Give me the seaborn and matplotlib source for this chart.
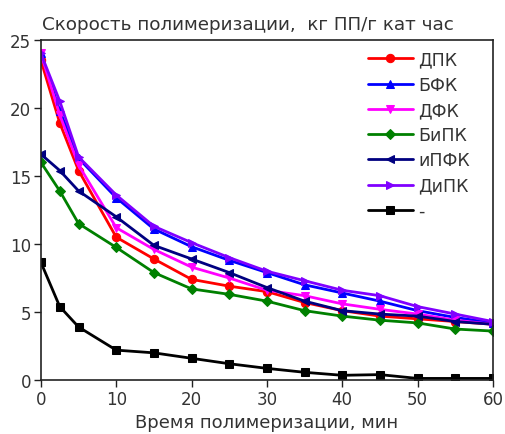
import matplotlib
matplotlib.use("Agg")
import matplotlib.pyplot as plt
import seaborn as sns
import pandas as pd

time_min = [0, 2.5, 5, 10, 15, 20, 25, 30, 35, 40, 45, 50, 55, 60]

dpk = [23.5, 18.9, 15.4, 10.5, 8.9, 7.4, 6.9, 6.5, 5.7, 5.1, 4.7, 4.5, 4.3, 4.1]
bfk = [24.0, 19.8, 16.3, 13.4, 11.1, 9.8, 8.8, 7.9, 7.0, 6.4, 5.8, 5.1, 4.6, 4.2]
dfk = [24.0, 19.5, 15.8, 11.2, 9.6, 8.3, 7.5, 6.6, 6.2, 5.6, 5.2, 4.85, 4.4, 4.1]
bipk = [16.0, 13.9, 11.5, 9.75, 7.9, 6.7, 6.3, 5.8, 5.1, 4.7, 4.4, 4.2, 3.75, 3.6]
ipfk = [16.6, 15.4, 13.9, 12.0, 9.9, 8.9, 7.9, 6.8, 5.8, 5.1, 4.85, 4.7, 4.3, 4.1]
dipk = [24.0, 20.5, 16.4, 13.6, 11.3, 10.1, 9.0, 8.0, 7.3, 6.6, 6.2, 5.4, 4.85, 4.3]
blank = [8.65, 5.4, 3.9, 2.2, 2.0, 1.6, 1.2, 0.86, 0.57, 0.35, 0.4, 0.12, 0.12, 0.12]

series_names = ["ДПК", "БФК", "ДФК", "БиПК", "иПФК", "ДиПК", "-"]
series_values = [dpk, bfk, dfk, bipk, ipfk, dipk, blank]
colors = ["#ff0000", "#0000ff", "#ff00ff", "#008000", "#000080", "#8000ff", "#000000"]
markers = ["o", "^", "v", "D", "<", ">", "s"]

sns.set_style("ticks")
plt.rcParams["font.family"] = ["DejaVu Sans"]

fig = plt.figure(figsize=(5.05, 4.35), dpi=100)
ax = fig.add_axes([0.081, 0.124, 0.895, 0.782])

for name, vals, col, mk in zip(series_names, series_values, colors, markers):
    df = pd.DataFrame({"t": time_min, "v": vals})
    sns.lineplot(data=df, x="t", y="v", ax=ax, color=col, marker=mk,
                 markersize=6 if mk != "D" else 5.5, markeredgecolor=col,
                 linewidth=2.0, label=name)

ax.set_xlim(0, 60)
ax.set_ylim(0, 25)
ax.set_xticks(range(0, 61, 10))
ax.set_yticks(range(0, 26, 5))
ax.tick_params(direction="out", length=5, width=1, labelsize=12,
               colors="#222222", labelcolor="#333333", pad=2)
for s in ax.spines.values():
    s.set_linewidth(1.2)
    s.set_color("#222222")

ax.set_xlabel("Время полимеризации, мин", fontsize=13, color="#333333",
              labelpad=4)
ax.set_ylabel("")
fig.text(0.083, 0.942, "Скорость полимеризации,  кг ПП/г кат час",
         fontsize=13.2, color="#333333", ha="left", va="center")

leg = ax.legend(loc="upper right", frameon=False, fontsize=12.5,
                handlelength=2.6, handletextpad=0.3, labelspacing=0.42,
                borderaxespad=0.2, bbox_to_anchor=(0.972, 1.0))
for t in leg.get_texts():
    t.set_color("#333333")

fig.savefig("out.png", dpi=100)
